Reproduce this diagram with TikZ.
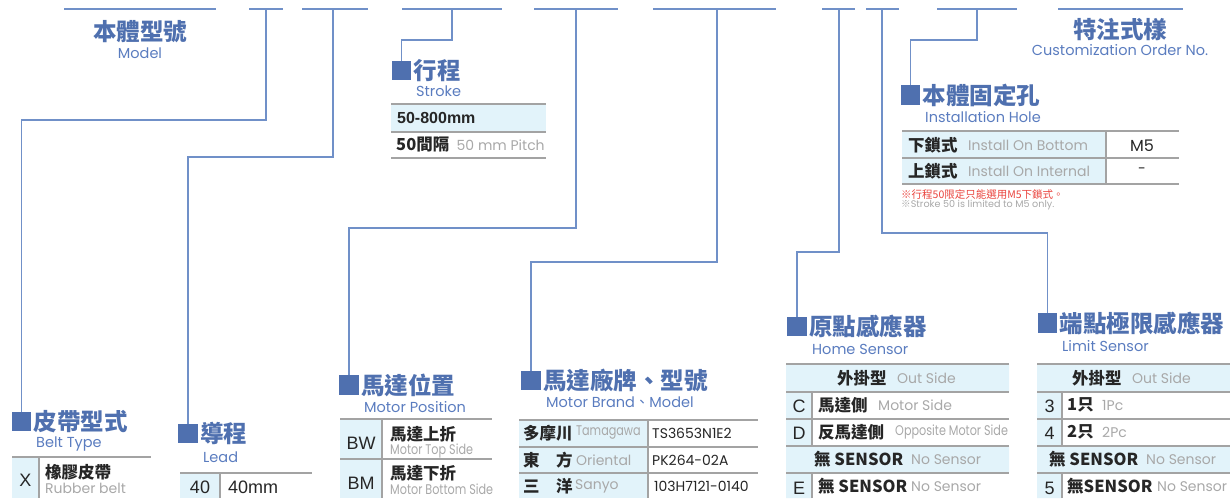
\documentclass[tikz,border=0pt]{standalone}
\usepackage{fontspec}
\setmainfont{Liberation Sans}
\newfontfamily\cjk{Noto Sans CJK TC}
\newfontfamily\eng{Poppins}
\newfontfamily\engc[FakeStretch=0.8]{Poppins}
\usepackage{tikz}
\usetikzlibrary{positioning}

\definecolor{titleblue}{HTML}{4F70AF}
\definecolor{subblue}{HTML}{5A7CBF}
\definecolor{lineblue}{HTML}{7090C8}
\definecolor{cellblue}{HTML}{E2F3FA}
\definecolor{rulegray}{HTML}{A3A3A3}
\definecolor{txtgray}{HTML}{A8A8A8}
\definecolor{txtdark}{HTML}{262626}
\definecolor{notered}{HTML}{E9423C}

\tikzset{
  sq/.style={fill=titleblue, minimum size=19.5pt, inner sep=0pt},
  ttl/.style={font=\cjk\bfseries\fontsize{23.5}{24}\selectfont, text=titleblue, inner sep=0pt},
  sub/.style={font=\eng\fontsize{14.5}{15}\selectfont, text=subblue, inner sep=0pt, anchor=west},
  conn/.style={draw=lineblue, line width=1.4pt},
  rule/.style={draw=rulegray, line width=1.3pt},
  cell/.style={fill=cellblue},
  ct/.style={font=\cjk\bfseries\fontsize{16.5}{17}\selectfont, text=txtdark, inner sep=0pt, anchor=west},
  gt/.style={font=\eng\fontsize{14}{14}\selectfont, text=txtgray, inner sep=0pt, anchor=west},
  gtc/.style={font=\engc\fontsize{14}{14}\selectfont, text=txtgray, inner sep=0pt, anchor=west},
  dt/.style={font=\eng\fontsize{14}{14}\selectfont, text=txtdark, inner sep=0pt, anchor=west},
  lt/.style={font=\fontsize{18}{18}\selectfont, text=txtdark, inner sep=0pt}
}

\begin{document}
\begin{tikzpicture}[x=1pt, y=-1pt]
\useasboundingbox (0,0) rectangle (1230,498);

% code line on top
\foreach \a/\b in {64/216, 249/283, 302/368, 402/502, 534/618, 653/776,
                   822/855, 866/899, 937/1017, 1058/1183}
  \draw[conn] (\a,9) -- (\b,9);
\coordinate (t2) at (266,9);
\coordinate (t3) at (333,9);
\coordinate (t4) at (452,9);
\coordinate (t5) at (576,9);
\coordinate (t6) at (717,9);
\coordinate (t7) at (839,9);
\coordinate (t8) at (882,9);
\coordinate (t9) at (977,9);

\node[ttl] (model) at (140,32) {本體型號};
\node[sub, anchor=center] (modelsub) at (140,53) {Model};
\node[ttl] (custom) at (1120,30) {特注式樣};
\node[sub, anchor=center] (customsub) at (1120,50) {Customization Order No.};

% headings
\node[sq] (sqbelt) at (21.5,421.5) {};
\node[ttl, right=2pt of sqbelt] (belt) {皮帶型式};
\node[sub] (beltsub) at (36,444) {Belt Type};

\node[sq] (sqlead) at (188,433.5) {};
\node[ttl, right=2pt of sqlead] (lead) {導程};
\node[sub] (leadsub) at (203,457) {Lead};

\node[sq] (sqstroke) at (401.5,70.5) {};
\node[ttl, right=2pt of sqstroke] (stroke) {行程};
\node[sub] (strokesub) at (416,91) {Stroke};

\node[sq] (sqpos) at (349,385) {};
\node[ttl, right=2pt of sqpos] (pos) {馬達位置};
\node[sub] (possub) at (364,407) {Motor Position};

\node[sq] (sqbrand) at (531,380.5) {};
\node[ttl, right=2pt of sqbrand] (brand) {馬達廠牌、型號};
\node[sub] (brandsub) at (546,402) {Motor Brand{\cjk 、}Model};

\node[sq] (sqhome) at (797,326.5) {};
\node[ttl, right=2pt of sqhome] (home) {原點感應器};
\node[sub] (homesub) at (812,349) {Home Sensor};

\node[sq] (sqlimit) at (1047.5,323) {};
\node[ttl, right=2pt of sqlimit] (limit) {端點極限感應器};
\node[sub] (limitsub) at (1062,346) {Limit Sensor};

\node[sq] (sqinst) at (910.5,95) {};
\node[ttl, right=2pt of sqinst] (inst) {本體固定孔};
\node[sub] (instsub) at (925,117) {Installation Hole};

% connectors
\coordinate (k2) at (0,120);
\coordinate (k3) at (0,157);
\coordinate (k4) at (0,40);
\coordinate (k5) at (0,228);
\coordinate (k6) at (0,262);
\coordinate (k7) at (0,252);
\coordinate (k8) at (0,233);
\coordinate (k9) at (0,40);
\draw[conn] (t2) -- (t2 |- k2) -| (sqbelt.north);
\draw[conn] (t3) -- (t3 |- k3) -| (sqlead.north);
\draw[conn] (t4) -- (t4 |- k4) -| (sqstroke.north);
\draw[conn] (t5) -- (t5 |- k5) -| (sqpos.north);
\draw[conn] (t6) -- (t6 |- k6) -| (sqbrand.north);
\draw[conn] (t7) -- (t7 |- k7) -| (sqhome.north);
\draw[conn] (t8) -- (t8 |- k8) -| (sqlimit.north);
\draw[conn] (t9) -- (t9 |- k9) -| (sqinst.north);

% stroke table
\fill[cell] (391,104) rectangle (546,132);
\draw[rule] (391,104) -- (546,104) (391,132) -- (546,132) (391,158) -- (546,158);
\node[ct, font=\bfseries\fontsize{16}{16}\selectfont] (str1) at (397,118) {50-800mm};
\node[ct] (str2) at (396,145) {50間隔};
\node[gt, right=7pt of str2] (str2e) {50 mm Pitch};

% installation hole table
\fill[cell] (902,131) rectangle (1106,184);
\draw[rule] (902,131) -- (1179,131) (902,158) -- (1179,158) (902,184) -- (1179,184);
\draw[rule] (1106,131) -- (1106,184);
\node[ct] (in1) at (908,145) {下鎖式};
\node[gt] (in1e) at (968,145) {Install On Bottom};
\node[dt, anchor=center, font=\eng\fontsize{16}{16}\selectfont] (in1v) at (1142,146) {M5};
\node[ct] (in2) at (908,171) {上鎖式};
\node[gt] (in2e) at (968,171) {Install On Internal};
\node[dt, anchor=center] (in2v) at (1142,171) {-};
\node[anchor=west, inner sep=0pt, text=notered, font=\cjk\fontsize{10.5}{11}\selectfont] (note1) at (901,194) {※行程50限定只能選用M5下鎖式。};
\node[anchor=west, inner sep=0pt, text=txtgray, font=\eng\fontsize{9.6}{10}\selectfont] (note2) at (901,205) {{\cjk ※}Stroke 50 is limited to M5 only.};

% belt type table
\fill[cell] (12,457) rectangle (39,498);
\draw[rule] (12,457) -- (151,457) (39,457) -- (39,498);
\node[lt] (bx) at (25.5,480) {X};
\node[ct] (bt1) at (45,472) {橡膠皮帶};
\node[gt] (bt1e) at (45,488.5) {Rubber belt};

% lead table
\fill[cell] (180,473) rectangle (220,498);
\draw[rule] (180,473) -- (312,473) (220,473) -- (220,498);
\node[lt] (l40) at (200,487) {40};
\node[lt, anchor=west] (l40e) at (228,487) {40mm};

% motor position table
\fill[cell] (340,419) rectangle (382,498);
\draw[rule] (340,419) -- (492,419) (340,459) -- (492,459) (382,419) -- (382,498);
\node[lt] (bw) at (361,443) {BW};
\node[lt] (bm) at (361,483) {BM};
\node[ct] (mp1) at (390,434) {馬達上折};
\node[gtc] (mp1e) at (390,451) {Motor Top Side};
\node[ct] (mp2) at (390,473) {馬達下折};
\node[gtc] (mp2e) at (390,489) {Motor Bottom Side};

% motor brand table
\fill[cell] (519,420) rectangle (648,498);
\draw[rule] (519,420) -- (758,420) (519,447) -- (758,447) (519,473) -- (758,473) (648,420) -- (648,498);
\node[ct] (mb1) at (523,433) {多摩川};
\node[gtc, right=3pt of mb1] (mb1e) {Tamagawa};
\node[dt] (mb1v) at (652,433) {TS3653N1E2};
\node[ct] (mb2) at (523,460) {東　方};
\node[gt, right=3pt of mb2] (mb2e) {Oriental};
\node[dt] (mb2v) at (652,460) {PK264-02A};
\node[ct] (mb3) at (523,486) {三　洋};
\node[gt, right=2pt of mb3] (mb3e) {Sanyo};
\node[dt] (mb3v) at (654,486) {103H7121-0140};

% home sensor table
\fill[cell] (786,364) rectangle (1009,392) (786,392) rectangle (812,498) (786,446) rectangle (1009,473);
\foreach \y in {364,392,419,446,473}
  \draw[rule] (786,\y) -- (1009,\y);
\draw[rule] (812,392) -- (812,446) (812,473) -- (812,498);
\node[ct] (hs0) at (837,378) {外掛型};
\node[gt, right=10pt of hs0] (hs0e) {Out Side};
\node[lt] (hc) at (799,406) {C};
\node[ct] (hs1) at (818,405) {馬達側};
\node[gt] (hs1e) at (878,405) {Motor Side};
\node[lt] (hd) at (799,433) {D};
\node[ct] (hs2) at (818,432) {反馬達側};
\node[gtc] (hs2e) at (895,432) {Opposite Motor Side};
\node[ct] (hs3) at (814,459) {無 SENSOR};
\node[gt] (hs3e) at (911,460) {No Sensor};
\node[lt] (he) at (799,488) {E};
\node[ct] (hs4) at (818,486) {無 SENSOR};
\node[gt] (hs4e) at (911,487) {No Sensor};

% limit sensor table
\fill[cell] (1037,364) rectangle (1230,392) (1037,392) rectangle (1062,498) (1037,446) rectangle (1230,473);
\foreach \y in {364,392,419,446,473}
  \draw[rule] (1037,\y) -- (1230,\y);
\draw[rule] (1062,392) -- (1062,446) (1062,473) -- (1062,498);
\node[ct] (ls0) at (1072,378) {外掛型};
\node[gt, right=10pt of ls0] (ls0e) {Out Side};
\node[lt] (l3) at (1049.5,406) {3};
\node[ct] (ls1) at (1067,405) {1只};
\node[gt] (ls1e) at (1102,405) {1Pc};
\node[lt] (l4) at (1049.5,433) {4};
\node[ct] (ls2) at (1067,432) {2只};
\node[gt] (ls2e) at (1102,432) {2Pc};
\node[ct] (ls3) at (1049,459) {無 SENSOR};
\node[gt] (ls3e) at (1146,460) {No Sensor};
\node[lt] (l5) at (1049.5,488) {5};
\node[ct] (ls4) at (1067,486) {無SENSOR};
\node[gt] (ls4e) at (1157,487) {No Sensor};

\end{tikzpicture}
\end{document}
